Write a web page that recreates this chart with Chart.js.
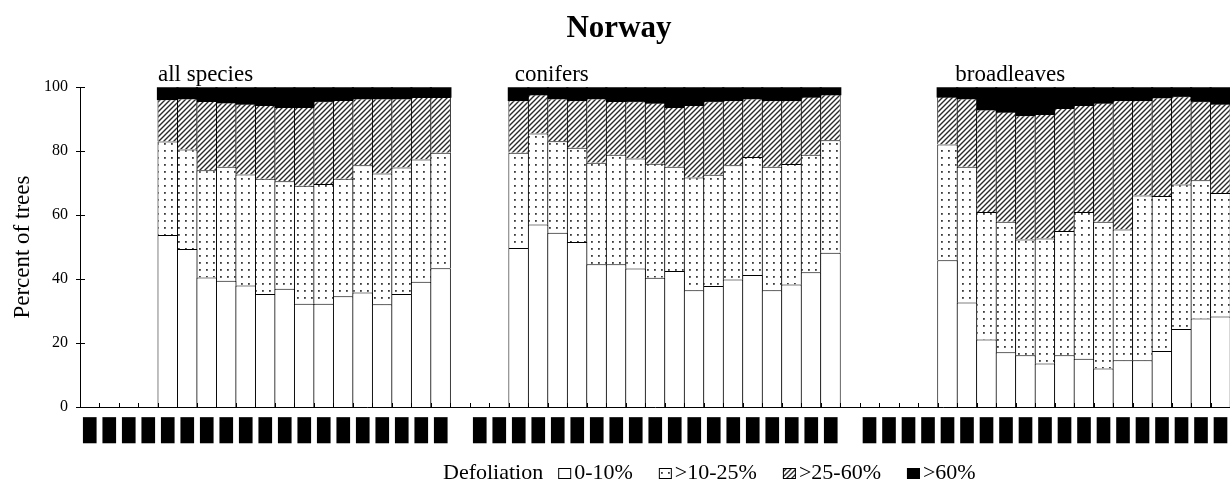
<!DOCTYPE html>
<html>
<head>
<meta charset="utf-8">
<script src="https://cdn.jsdelivr.net/npm/chart.js@4.4.0/dist/chart.umd.min.js"></script>
<style>
    html, body { margin: 0; padding: 0; background: #fff; overflow: hidden; }
</style>
</head>
<body>
<canvas id="defoliationChart" width="1239" height="485"></canvas>
<script>
// Norway - share of trees by defoliation class, three species groups

const years = ['1986', '1987', '1988', '1989', '1990', '1991', '1992', '1993', '1994', '1995',
    '1996', '1997', '1998', '1999', '2000', '2001', '2002', '2003', '2004'];
const groupNames = ['all species', 'conifers', 'broadleaves'];
const classNames = ['0-10%', '>10-25%', '>25-60%', '>60%'];

// all species, 1990-2004
const allClass1 = [53.8, 49.4, 40.5, 39.5, 38.0, 35.3, 37.0, 32.3, 32.3, 34.6, 35.8, 32.1, 35.3, 39.2, 43.4];
const allClass2 = [29.2, 31.1, 33.5, 35.6, 34.7, 36.1, 33.6, 36.9, 37.4, 36.8, 39.8, 40.9, 39.6, 38.2, 36.1];
const allClass3 = [13.2, 16.0, 21.7, 20.1, 22.1, 23.0, 23.2, 24.6, 25.9, 24.6, 20.9, 23.5, 21.6, 19.5, 17.4];
const allClass4 = [3.8, 3.5, 4.3, 4.8, 5.2, 5.6, 6.2, 6.2, 4.4, 4.0, 3.5, 3.5, 3.5, 3.1, 3.1];

// conifers, 1988-2004
const conClass1 = [49.7, 57.1, 54.5, 51.6, 44.6, 44.6, 43.3, 40.4, 42.5, 36.5, 37.8, 39.9, 41.3, 36.5, 38.3, 42.1, 48.2];
const conClass2 = [29.8, 28.4, 28.6, 29.5, 31.8, 34.3, 34.4, 35.7, 32.6, 35.3, 34.8, 35.7, 36.9, 38.6, 37.7, 36.8, 35.2];
const conClass3 = [16.4, 12.2, 13.4, 14.8, 20.1, 16.8, 17.9, 19.0, 18.7, 22.6, 23.0, 20.3, 18.3, 20.8, 19.9, 18.1, 14.3];
const conClass4 = [4.1, 2.3, 3.5, 4.1, 3.5, 4.3, 4.4, 4.9, 6.2, 5.6, 4.4, 4.1, 3.5, 4.1, 4.1, 3.0, 2.3];

// broadleaves, 1990-2004
const brdClass1 = [45.9, 32.7, 21.1, 17.1, 16.2, 13.6, 16.2, 15.1, 12.0, 14.6, 14.6, 17.5, 24.4, 27.7, 28.3];
const brdClass2 = [36.2, 42.4, 39.9, 40.8, 36.2, 39.1, 38.8, 45.9, 45.9, 40.9, 51.5, 48.5, 45.2, 43.2, 38.6];
const brdClass3 = [14.9, 21.4, 32.0, 34.4, 38.8, 38.9, 38.5, 33.4, 37.2, 40.4, 29.8, 30.8, 27.6, 24.7, 27.9];
const brdClass4 = [3.0, 3.5, 7.0, 7.7, 8.8, 8.4, 6.5, 5.6, 4.9, 4.1, 4.1, 3.2, 2.8, 4.4, 5.2];

// one 19-year block per group, an empty slot between groups
function fillGroup(values) {
    return new Array(years.length - values.length).fill(null).concat(values);
}
function joinGroups(a, b, c) {
    return fillGroup(a).concat([null], fillGroup(b), [null], fillGroup(c));
}

const labels = years.concat([''], years, [''], years);
const series = [
    joinGroups(allClass1, conClass1, brdClass1),
    joinGroups(allClass2, conClass2, brdClass2),
    joinGroups(allClass3, conClass3, brdClass3),
    joinGroups(allClass4, conClass4, brdClass4)
];

const serif = 'Liberation Serif';
const canvas = document.getElementById('defoliationChart');
const ctx = canvas.getContext('2d');

function dotPattern() {
    const c = document.createElement('canvas');
    c.width = 7; c.height = 7;
    const g = c.getContext('2d');
    g.fillStyle = '#fff';
    g.fillRect(0, 0, 7, 7);
    g.fillStyle = '#3a3a3a';
    g.fillRect(3, 3, 1.8, 1.8);
    return ctx.createPattern(c, 'repeat');
}

function hatchPattern() {
    const s = 5;
    const c = document.createElement('canvas');
    c.width = s; c.height = s;
    const g = c.getContext('2d');
    g.fillStyle = '#fff';
    g.fillRect(0, 0, s, s);
    g.strokeStyle = '#2a2a2a';
    g.lineWidth = 1.4;
    g.beginPath();
    g.moveTo(-1, s + 1); g.lineTo(s + 1, -1);
    g.moveTo(-1, 1); g.lineTo(1, -1);
    g.moveTo(s - 1, s + 1); g.lineTo(s + 1, s - 1);
    g.stroke();
    return ctx.createPattern(c, 'repeat');
}

const fills = ['#fff', dotPattern(), hatchPattern(), '#000'];

// where each group caption starts, in category units
const captionAt = [3.5, 21.8, 44.4];

const decorPlugin = {
    id: 'decor',
    afterDraw(chart) {
        const { ctx, chartArea, scales: { x, y } } = chart;
        ctx.save();
        ctx.strokeStyle = '#000';
        ctx.lineWidth = 1;
        ctx.beginPath();
        y.ticks.forEach(function (t) {
            const py = Math.round(y.getPixelForValue(t.value)) + 0.5;
            ctx.moveTo(chartArea.left - 4, py);
            ctx.lineTo(chartArea.left + 5, py);
        });
        for (let i = 0; i <= labels.length; i++) {
            const px = Math.round(x.getPixelForValue(i - 0.5)) + 0.5;
            ctx.moveTo(px, chartArea.bottom);
            ctx.lineTo(px, chartArea.bottom - 4);
        }
        ctx.stroke();

        // group captions
        ctx.fillStyle = '#000';
        ctx.font = '23px "' + serif + '"';
        ctx.textBaseline = 'alphabetic';
        ctx.textAlign = 'left';
        groupNames.forEach(function (name, k) {
            ctx.fillText(name, x.getPixelForValue(captionAt[k]), chartArea.top - 6);
        });

        // legend
        ctx.font = '22px "' + serif + '"';
        const base = 479;
        let lx = 443;
        ctx.fillText('Defoliation', lx, base);
        lx += ctx.measureText('Defoliation').width + 15;
        classNames.forEach(function (name, k) {
            ctx.fillStyle = fills[k];
            ctx.fillRect(lx, base - 11, 13, 11);
            ctx.strokeStyle = '#000';
            ctx.strokeRect(lx + 0.5, base - 10.5, 12, 10);
            lx += 16;
            ctx.fillStyle = '#000';
            ctx.fillText(name, lx, base);
            lx += ctx.measureText(name).width + 26;
        });
        ctx.restore();
    }
};

new Chart(ctx, {
    type: 'bar',
    data: {
        labels: labels,
        datasets: classNames.map(function (name, k) {
            const solid = k === 3;
            return {
                label: name,
                data: series[k],
                backgroundColor: fills[k],
                borderColor: '#000',
                borderWidth: solid ? 0 : 1,
                inflateAmount: solid ? 0.6 : 0,
                barPercentage: 1.05,
                categoryPercentage: 1
            };
        })
    },
    options: {
        responsive: false,
        animation: false,
        devicePixelRatio: 1,
        layout: { padding: { left: 0, right: 1, top: 0, bottom: 0 } },
        plugins: {
            legend: { display: false },
            tooltip: { enabled: false },
            title: {
                display: true,
                text: 'Norway',
                color: '#000',
                font: { family: serif, size: 31, weight: 'bold' },
                padding: { top: 10, bottom: 40 }
            }
        },
        scales: {
            x: {
                stacked: true,
                grid: { display: false, drawTicks: false },
                border: { display: true, color: '#000', width: 1 },
                ticks: {
                    autoSkip: false,
                    maxRotation: 0,
                    minRotation: 0,
                    padding: 12,
                    color: '#000',
                    font: { family: 'DejaVu Sans Mono', size: 22 },
                    // the year labels print as solid blocks in the original
                    callback: function (v, i) { return labels[i] ? '\u2588' : ''; }
                },
                afterFit: function (s) { s.height = 78; }
            },
            y: {
                stacked: true,
                min: 0,
                max: 100,
                grid: { display: false, drawTicks: false },
                border: { display: true, color: '#000', width: 1 },
                ticks: {
                    stepSize: 20,
                    padding: 12,
                    color: '#000',
                    font: { family: serif, size: 16 }
                },
                title: {
                    display: true,
                    text: 'Percent of trees',
                    color: '#000',
                    font: { family: serif, size: 23 },
                    padding: { top: 9, bottom: 0 }
                },
                afterFit: function (s) { s.width = 80; }
            }
        }
    },
    plugins: [decorPlugin]
});
</script>
</body>
</html>
